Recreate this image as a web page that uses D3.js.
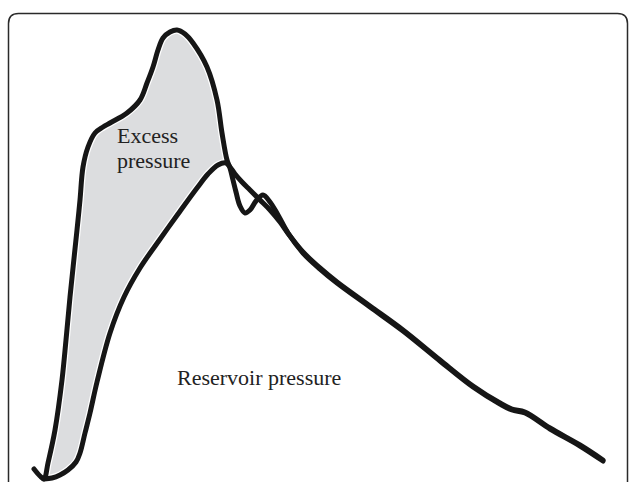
<!DOCTYPE html>
<html>
<head>
<meta charset="utf-8">
<script src="https://cdn.jsdelivr.net/npm/d3@7"></script>
<style>
	body { margin: 0; background: #fff; }
	svg { display: block; }
</style>
</head>
<body>
<svg id="chart"></svg>
<script>
// Values (arbitrary time / pressure units)
// Measured (total) pressure wave
const totalTime = [0, 6, 10, 14, 21, 28, 32, 36, 43, 46, 49, 54, 61, 69, 76, 93, 106, 113, 119, 124, 129, 136, 143, 151, 159, 173, 183, 188, 193, 196, 199, 202, 206, 211, 216, 222, 229, 236, 244, 254, 269, 286, 303, 336, 369, 406, 439, 466, 478, 491, 516, 546, 569];
const totalPressure = [10, 3, 0, 16, 49, 99, 139, 182, 249, 279, 312, 332, 346, 352, 356, 366, 379, 396, 412, 429, 441, 447, 449, 445, 436, 412, 379, 346, 319, 311, 299, 287, 273, 266, 269, 278, 284, 277, 264, 246, 226, 210, 196, 172, 148, 118, 92, 75, 69, 66, 50, 33, 18];

// Reservoir pressure
const resTime = [10, 18, 26, 34, 42, 46, 51, 56, 63, 76, 90, 106, 124, 144, 163, 174, 184, 192, 196, 201, 208, 216, 226, 236, 246, 256, 269, 286, 303, 336, 369, 406, 439, 466, 478, 491, 516, 546, 569];
const resPressure = [0, 1, 4, 9, 17, 26, 46, 66, 97, 146, 182, 211, 237, 265, 291, 305, 314, 316, 312, 305, 297, 289, 279, 269, 257, 243, 227, 211, 197, 173, 149, 119, 93, 76, 70, 67, 51, 34, 19];

// index where the two curves cross (end of the excess pressure area)
const crossTotal = 29;
const crossRes = 18;

const labels = [
	{ text: ["Excess", "pressure"], t: 83, p: 336 },
	{ text: ["Reservoir pressure"], t: 143, p: 94 }
];

var W = 629, H = 482;

const svg = d3.select("#chart")
	.attr("width", W)
	.attr("height", H);

var x = d3.scaleLinear().domain([0, 570]).range([34, 604]);
var y = d3.scaleLinear().domain([0, 450]).range([479, 29]);

const totalData = totalTime.map((t, i) => [t, totalPressure[i]]);
const resData = resTime.map((t, i) => [t, resPressure[i]]);

// Frame, open at the bottom, rounded top corners
var fx0 = 8.5, fx1 = 627.5, fy0 = 13.5, r = 10;
svg.append("path")
	.attr("d", `M${fx0},${H} V${fy0 + r} Q${fx0},${fy0} ${fx0 + r},${fy0} H${fx1 - r} Q${fx1},${fy0} ${fx1},${fy0 + r} V${H}`)
	.attr("fill", "none")
	.attr("stroke", "#2a2a2a")
	.attr("stroke-width", 1.5);

var line = d3.line()
	.x(d => x(d[0]))
	.y(d => y(d[1]))
	.curve(d3.curveCatmullRom.alpha(0.5));

// Grey area between the two curves
var upperPart = totalData.slice(0, crossTotal + 1);
var lowerPart = resData.slice(0, crossRes + 1).reverse();
svg.append("path")
	.attr("d", line(upperPart) + "L" + line(lowerPart).slice(1) + "Z")
	.attr("fill", "#dcdddf")
	.attr("stroke", "none");

// white halo under the lines
[totalData, resData].forEach(data => {
	svg.append("path")
		.attr("d", line(data))
		.attr("fill", "none")
		.attr("stroke", "#fff")
		.attr("stroke-width", 7.5)
		.attr("stroke-linejoin", "round")
		.attr("stroke-linecap", "round");
});

[totalData, resData].forEach(data => {
	svg.append("path")
		.attr("d", line(data))
		.attr("fill", "none")
		.attr("stroke", "#161616")
		.attr("stroke-width", 5)
		.attr("stroke-linejoin", "round")
		.attr("stroke-linecap", "round");
});

// Labels
labels.forEach(l => {
	var txt = svg.append("text")
		.attr("x", x(l.t))
		.attr("y", y(l.p))
		.attr("font-family", "'Liberation Serif', 'DejaVu Serif', serif")
		.attr("font-size", 22)
		.attr("fill", "#222");
	l.text.forEach((s, i) => {
		txt.append("tspan")
			.attr("x", x(l.t))
			.attr("dy", i === 0 ? 0 : 25)
			.text(s);
	});
});
</script>
</body>
</html>
